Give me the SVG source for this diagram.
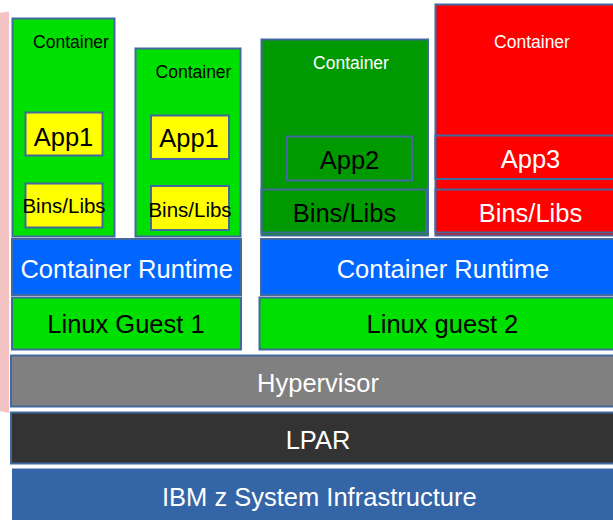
<svg xmlns="http://www.w3.org/2000/svg" width="613" height="520" viewBox="0 0 613 520">
  <style>
    .box { stroke: #41699f; stroke-width: 2; }
    .t { font-family: "Liberation Sans", Arial, sans-serif; text-anchor: middle; }
    .big { font-size: 25.5px; }
    .small { font-size: 17.5px; }
    .libs { font-size: 20.5px; }
    .dark { fill: #000000; }
    .light { fill: #ffffff; }
  </style>

  <!-- side band -->
  <polygon points="0,12.8 9,11.6 9,413 0,411" fill="#f3c3c3"/>

  <!-- container 1 -->
  <g id="container1">
    <rect class="box" x="12.5" y="18.5" width="102" height="218" fill="#00e000"/>
    <text class="t small dark" x="71" y="48">Container</text>
    <rect class="box" x="25.5" y="112.5" width="77" height="43" fill="#ffff00"/>
    <text class="t big dark" x="63.5" y="146">App1</text>
    <rect class="box" x="25.5" y="183.5" width="77" height="44" fill="#ffff00"/>
    <text class="t libs dark" x="64" y="213">Bins/Libs</text>
  </g>

  <!-- container 2 -->
  <g id="container2">
    <rect class="box" x="135.5" y="48.5" width="105" height="188" fill="#00e000"/>
    <text class="t small dark" x="193.5" y="78">Container</text>
    <rect class="box" x="151" y="115.5" width="78" height="43.5" fill="#ffff00"/>
    <text class="t big dark" x="189" y="147">App1</text>
    <rect class="box" x="151" y="186" width="78" height="44" fill="#ffff00"/>
    <text class="t libs dark" x="190" y="216.5">Bins/Libs</text>
  </g>

  <!-- container 3 -->
  <g id="container3">
    <rect class="box" x="261.5" y="39.5" width="166.5" height="196" fill="#009900"/>
    <text class="t small light" x="351" y="69">Container</text>
    <rect class="box" x="287" y="136.5" width="125" height="44" fill="none"/>
    <text class="t big dark" x="349.5" y="168.5">App2</text>
    <rect class="box" x="261.5" y="189.5" width="164.5" height="43" fill="#009900"/>
    <text class="t big dark" x="344.5" y="221.5">Bins/Libs</text>
  </g>

  <!-- container 4 -->
  <g id="container4">
    <rect class="box" x="435.5" y="4.5" width="180" height="231" fill="#ff0000"/>
    <text class="t small light" x="532" y="48.3">Container</text>
    <rect class="box" x="435.5" y="135.5" width="180" height="43.5" fill="#ff0000"/>
    <text class="t big light" x="530.5" y="167.5">App3</text>
    <rect class="box" x="435.5" y="189.5" width="180" height="43" fill="#ff0000"/>
    <text class="t big light" x="530.5" y="221.5">Bins/Libs</text>
  </g>

  <!-- runtimes -->
  <g id="runtime1">
    <rect class="box" x="12" y="239" width="229" height="56" fill="#0066ff"/>
    <text class="t big light" x="126.7" y="278.3">Container Runtime</text>
  </g>
  <g id="runtime2">
    <rect class="box" x="261" y="239" width="355" height="56" fill="#0066ff"/>
    <text class="t big light" x="443" y="278.3">Container Runtime</text>
  </g>

  <!-- guests -->
  <g id="guest1">
    <rect class="box" x="12" y="297.5" width="229" height="52" fill="#00e000"/>
    <text class="t big dark" x="126" y="333.3">Linux Guest 1</text>
  </g>
  <g id="guest2">
    <rect class="box" x="259.5" y="297.5" width="356" height="52" fill="#00e000"/>
    <text class="t big dark" x="442.4" y="333.3">Linux guest 2</text>
  </g>

  <!-- platform layers -->
  <g id="hypervisor">
    <rect class="box" x="11" y="355.5" width="605" height="51" fill="#808080"/>
    <text class="t big light" x="318" y="391.7">Hypervisor</text>
  </g>
  <g id="lpar">
    <rect class="box" x="11" y="412.5" width="605" height="51" fill="#333333"/>
    <text class="t big light" x="318" y="449">LPAR</text>
  </g>
  <g id="infrastructure">
    <rect x="12" y="468.5" width="602" height="52" fill="#3465a6"/>
    <text class="t big light" x="319.3" y="506">IBM z System Infrastructure</text>
  </g>

  <g id="connectors"/>
</svg>
